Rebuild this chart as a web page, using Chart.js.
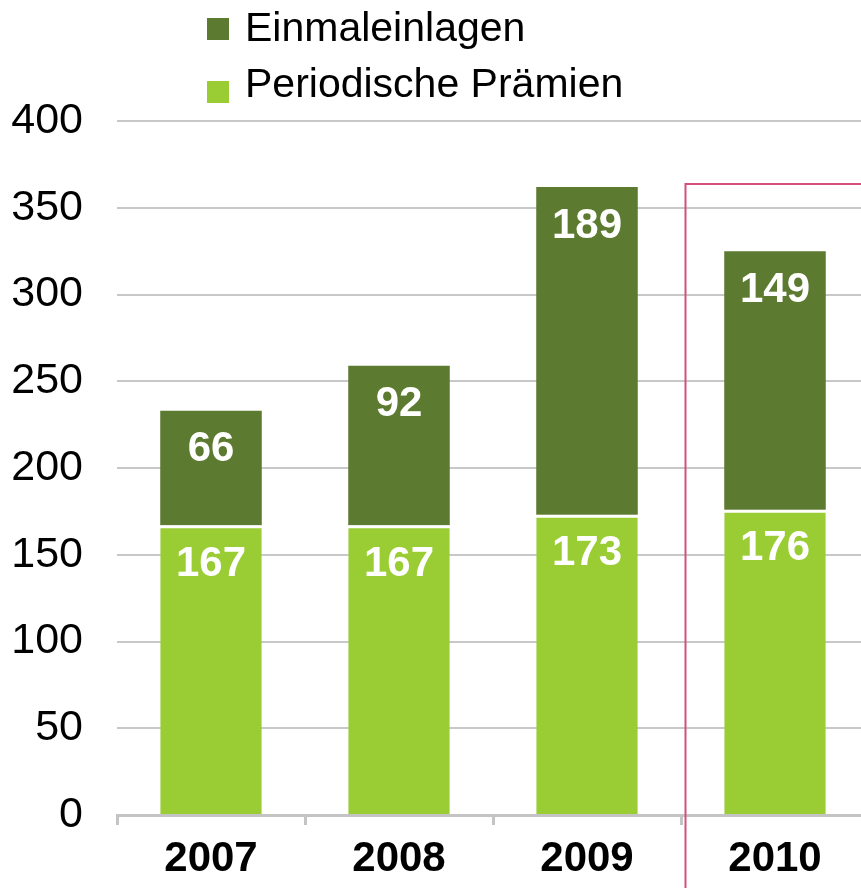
<!DOCTYPE html>
<html>
<head>
<meta charset="utf-8">
<script src="https://cdn.jsdelivr.net/npm/chart.js@4/dist/chart.umd.min.js"></script>
<style>
  html, body { margin: 0; padding: 0; background: #fff; overflow: hidden; }
  #wrap { width: 869px; height: 888px; }
</style>
</head>
<body>
<div id="wrap"><canvas id="myChart" width="869" height="888"></canvas></div>
<script>
var years = ['2007', '2008', '2009', '2010'];
var periodische = [167, 167, 173, 176];
var einmal = [66, 92, 189, 149];
var yTicks = [0, 50, 100, 150, 200, 250, 300, 350, 400];

var darkGreen = '#5C7A30';
var lightGreen = '#9ACD34';
var font = 'Liberation Sans, Arial, sans-serif';

// value labels near the top of each segment
var valueLabels = {
    id: 'valueLabels',
    afterDatasetsDraw: function(chart) {
        var ctx = chart.ctx;
        ctx.save();
        ctx.fillStyle = '#fff';
        ctx.font = 'bold 42px ' + font;
        ctx.textAlign = 'center';
        ctx.textBaseline = 'middle';
        chart.data.datasets.forEach(function(ds, i) {
            chart.getDatasetMeta(i).data.forEach(function(bar, j) {
                ctx.fillText(ds.data[j], bar.x, bar.y + 39);
            });
        });
        ctx.restore();
    }
};

// legend in the top left and the red frame round 2010
var extras = {
    id: 'extras',
    afterDraw: function(chart) {
        var ctx = chart.ctx;
        var xs = chart.scales.x;
        ctx.save();
        var order = [1, 0];
        order.forEach(function(i, row) {
            var ds = chart.data.datasets[i];
            ctx.fillStyle = ds.backgroundColor;
            ctx.fillRect(207, 18 + row * 63, 22, 22);
            ctx.fillStyle = '#000';
            ctx.font = '41px ' + font;
            ctx.textAlign = 'left';
            ctx.textBaseline = 'middle';
            ctx.fillText(ds.label, 245, 30 + row * 56);
        });
        var lx = Math.round((xs.getPixelForValue(2) + xs.getPixelForValue(3)) / 2) + 4.5;
        ctx.strokeStyle = '#D4507A';
        ctx.lineWidth = 2;
        ctx.beginPath();
        ctx.moveTo(lx, chart.height);
        ctx.lineTo(lx, 184);
        ctx.lineTo(chart.width, 184);
        ctx.stroke();
        ctx.restore();
    }
};

new Chart(document.getElementById('myChart'), {
    type: 'bar',
    data: {
        labels: years,
        datasets: [{
            label: 'Periodische Prämien',
            data: periodische,
            backgroundColor: lightGreen,
            borderColor: '#fff',
            borderWidth: { top: 3, left: 0, right: 0, bottom: 0 },
            borderSkipped: false,
            categoryPercentage: 1,
            barPercentage: 0.54
        }, {
            label: 'Einmaleinlagen',
            data: einmal,
            backgroundColor: darkGreen,
            borderWidth: 0,
            categoryPercentage: 1,
            barPercentage: 0.54
        }]
    },
    plugins: [valueLabels, extras],
    options: {
        responsive: false,
        animation: false,
        layout: { padding: { top: 121, left: 0, right: 0, bottom: 0 } },
        plugins: {
            legend: { display: false },
            tooltip: { enabled: false }
        },
        scales: {
            x: {
                stacked: true,
                afterFit: function(scale) { scale.height = 73; },
                grid: {
                    display: true,
                    offset: true,
                    drawOnChartArea: false,
                    drawTicks: true,
                    tickLength: 10,
                    color: '#C4C4C4',
                    lineWidth: 3
                },
                border: { display: true, color: '#C4C4C4', width: 3 },
                ticks: {
                    color: '#000',
                    font: { family: font, size: 42, weight: 'bold' },
                    padding: 9
                }
            },
            y: {
                stacked: true,
                min: 0,
                max: 400,
                afterFit: function(scale) { scale.width = 117; },
                afterBuildTicks: function(scale) {
                    scale.ticks = yTicks.map(function(v) { return { value: v }; });
                },
                grid: {
                    color: '#C8C8C8',
                    lineWidth: 2,
                    drawTicks: false
                },
                border: { display: false },
                ticks: {
                    color: '#000',
                    font: { family: font, size: 43 },
                    padding: 34
                }
            }
        }
    }
});
</script>
</body>
</html>
